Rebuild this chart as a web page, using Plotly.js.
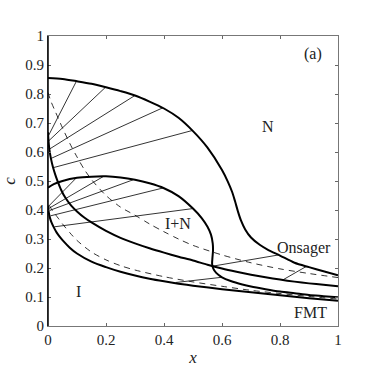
<!DOCTYPE html>
<html>
<head>
<meta charset="utf-8">
<script src="https://cdn.plot.ly/plotly-3.0.1.min.js"></script>
<style>html,body{margin:0;padding:0;background:#fff;}#plot{width:374px;height:376px;}</style>
</head>
<body>
<div id="plot"></div>
<script>
// Onsager binodal, nematic side
const onsNx = [0, 0.05, 0.1, 0.15, 0.2, 0.25, 0.3, 0.35, 0.4, 0.45, 0.5, 0.55, 0.6, 0.62, 0.635, 0.645, 0.655, 0.665, 0.68, 0.7, 0.73, 0.76, 0.8, 0.85, 0.9, 0.95, 1.0];
const onsNc = [0.855, 0.852, 0.844, 0.835, 0.823, 0.81, 0.795, 0.774, 0.75, 0.718, 0.672, 0.615, 0.538, 0.498, 0.462, 0.43, 0.395, 0.365, 0.333, 0.305, 0.28, 0.262, 0.243, 0.218, 0.203, 0.189, 0.175];
// Onsager binodal, isotropic side
const onsIx = [0, 0.001, 0.003, 0.006, 0.01, 0.017, 0.025, 0.034, 0.045, 0.06, 0.08, 0.1, 0.125, 0.15, 0.2, 0.25, 0.3, 0.35, 0.4, 0.45, 0.5, 0.55, 0.6, 0.65, 0.7, 0.75, 0.8, 0.85, 0.9, 0.95, 1.0];
const onsIc = [0.668, 0.65, 0.625, 0.6, 0.578, 0.548, 0.522, 0.497, 0.47, 0.442, 0.415, 0.395, 0.374, 0.357, 0.328, 0.304, 0.285, 0.268, 0.253, 0.239, 0.226, 0.211, 0.198, 0.187, 0.177, 0.168, 0.16, 0.153, 0.147, 0.142, 0.137];
// FMT binodal, nematic side
const fmtNx = [0, 0.02, 0.05, 0.1, 0.15, 0.2, 0.25, 0.3, 0.35, 0.4, 0.45, 0.5, 0.53, 0.55, 0.562, 0.568, 0.569, 0.567, 0.566, 0.57, 0.58, 0.6, 0.63, 0.67, 0.7, 0.75, 0.8, 0.85, 0.9, 0.95, 1.0];
const fmtNc = [0.477, 0.489, 0.5, 0.511, 0.515, 0.516, 0.512, 0.504, 0.492, 0.475, 0.448, 0.405, 0.372, 0.342, 0.315, 0.285, 0.26, 0.235, 0.213, 0.198, 0.183, 0.168, 0.155, 0.143, 0.136, 0.127, 0.119, 0.113, 0.107, 0.103, 0.099];
// FMT binodal, isotropic side
const fmtIx = [0, 0.003, 0.007, 0.012, 0.02, 0.03, 0.04, 0.05, 0.075, 0.1, 0.15, 0.2, 0.25, 0.3, 0.35, 0.4, 0.45, 0.5, 0.6, 0.7, 0.8, 0.9, 1.0];
const fmtIc = [0.415, 0.39, 0.372, 0.357, 0.34, 0.322, 0.308, 0.296, 0.27, 0.25, 0.222, 0.203, 0.187, 0.174, 0.163, 0.154, 0.146, 0.139, 0.127, 0.116, 0.106, 0.096, 0.087];
// dashed curves
const onsDx = [0, 0.01, 0.025, 0.05, 0.075, 0.1, 0.125, 0.15, 0.2, 0.25, 0.3, 0.35, 0.4, 0.45, 0.5, 0.6, 0.7, 0.8, 0.9, 1.0];
const onsDc = [0.805, 0.775, 0.74, 0.683, 0.63, 0.583, 0.54, 0.505, 0.45, 0.41, 0.382, 0.352, 0.325, 0.3, 0.278, 0.245, 0.218, 0.197, 0.181, 0.167];
const fmtDx = [0.005, 0.015, 0.025, 0.035, 0.05, 0.075, 0.1, 0.15, 0.2, 0.25, 0.3, 0.4, 0.5, 0.6, 0.7, 0.8, 0.9, 1.0];
const fmtDc = [0.415, 0.398, 0.385, 0.372, 0.352, 0.322, 0.295, 0.255, 0.228, 0.208, 0.193, 0.17, 0.152, 0.137, 0.123, 0.112, 0.102, 0.093];
// tie lines (isotropic end -> nematic end)
const onsTieIx = [0.001, 0.002, 0.005, 0.011, 0.018, 0.566, 0.81];
const onsTieIc = [0.655, 0.638, 0.61, 0.578, 0.546, 0.206, 0.159];
const onsTieNx = [0.098, 0.198, 0.3, 0.395, 0.497, 0.795, 0.89];
const onsTieNc = [0.844, 0.823, 0.795, 0.752, 0.674, 0.245, 0.205];
const fmtTieIx = [0.001, 0.002, 0.004, 0.009, 0.022, 0.44];
const fmtTieIc = [0.412, 0.405, 0.398, 0.38, 0.342, 0.15];
const fmtTieNx = [0.097, 0.19, 0.293, 0.397, 0.5, 0.6];
const fmtTieNc = [0.51, 0.515, 0.504, 0.476, 0.405, 0.168];
// tick labels
const xTicks = [0, 0.2, 0.4, 0.6, 0.8, 1];
const xTickText = ['0', '0.2', '0.4', '0.6', '0.8', '1'];
const yTicks = [0, 0.1, 0.2, 0.3, 0.4, 0.5, 0.6, 0.7, 0.8, 0.9, 1];
const yTickText = ['0', '0.1', '0.2', '0.3', '0.4', '0.5', '0.6', '0.7', '0.8', '0.9', '1'];

function segs(x1, y1, x2, y2) {
  const xs = [], ys = [];
  for (let i = 0; i < x1.length; i++) { xs.push(x1[i], x2[i], null); ys.push(y1[i], y2[i], null); }
  return {xs, ys};
}
const ot = segs(onsTieIx, onsTieIc, onsTieNx, onsTieNc);
const ft = segs(fmtTieIx, fmtTieIc, fmtTieNx, fmtTieNc);

const thick = {color: '#000', width: 2, shape: 'spline', smoothing: 0.8};
const thin = {color: '#000', width: 0.8};
const dashed = {color: '#000', width: 0.8, dash: '6px,5px', shape: 'spline', smoothing: 0.8};
const traces = [
  {x: ot.xs, y: ot.ys, mode: 'lines', line: thin},
  {x: ft.xs, y: ft.ys, mode: 'lines', line: thin},
  {x: onsDx, y: onsDc, mode: 'lines', line: dashed},
  {x: fmtDx, y: fmtDc, mode: 'lines', line: dashed},
  {x: onsNx, y: onsNc, mode: 'lines', line: thick},
  {x: onsIx, y: onsIc, mode: 'lines', line: thick},
  {x: fmtNx, y: fmtNc, mode: 'lines', line: thick},
  {x: fmtIx, y: fmtIc, mode: 'lines', line: thick}
].map(t => Object.assign(t, {showlegend: false, hoverinfo: 'skip'}));

const fam = "'Liberation Serif', 'Times New Roman', 'DejaVu Serif', serif";
const font = {family: fam, size: 15, color: '#222'};
const lab = {family: fam, size: 16, color: '#222'};
function ann(text, x, y) {
  return {text: text, x: x, y: y, xref: 'paper', yref: 'paper', xanchor: 'center', yanchor: 'middle', showarrow: false, font: lab};
}
const layout = {
  width: 374, height: 376,
  margin: {l: 48, r: 36, t: 36, b: 50, pad: 0},
  paper_bgcolor: '#fff', plot_bgcolor: '#fff',
  font: font,
  showlegend: false,
  xaxis: {
    range: [0, 1], tickvals: xTicks, ticktext: xTickText,
    ticks: 'inside', ticklen: 3, tickcolor: '#666', tickwidth: 1,
    showline: true, linecolor: '#777', linewidth: 1, mirror: 'ticks',
    showgrid: false, zeroline: false, fixedrange: true,
    tickfont: font,
    title: {text: '<i>x</i>', font: {family: fam, size: 17, color: '#222'}, standoff: 4}
  },
  yaxis: {
    range: [0, 1], tickvals: yTicks, ticktext: yTickText,
    ticks: 'inside', ticklen: 3, tickcolor: '#666', tickwidth: 1,
    showline: true, linecolor: '#777', linewidth: 1, mirror: 'ticks',
    showgrid: false, zeroline: false, fixedrange: true,
    tickfont: font,
    title: {text: '<i>c</i>', font: {family: fam, size: 17, color: '#222'}, standoff: 6}
  },
  shapes: [
    {type: 'line', xref: 'paper', yref: 'paper', x0: 0, x1: 0, y0: 0, y1: 1, line: {color: '#000', width: 1.5}}
  ],
  annotations: [
    ann('(a)', 0.915, 0.937),
    ann('N', 0.758, 0.688),
    ann('I+N', 0.447, 0.355),
    ann('I', 0.104, 0.12),
    ann('Onsager', 0.882, 0.268),
    ann('FMT', 0.905, 0.048)
  ]
};
Plotly.newPlot('plot', traces, layout, {staticPlot: true, displayModeBar: false});
</script>
</body>
</html>
